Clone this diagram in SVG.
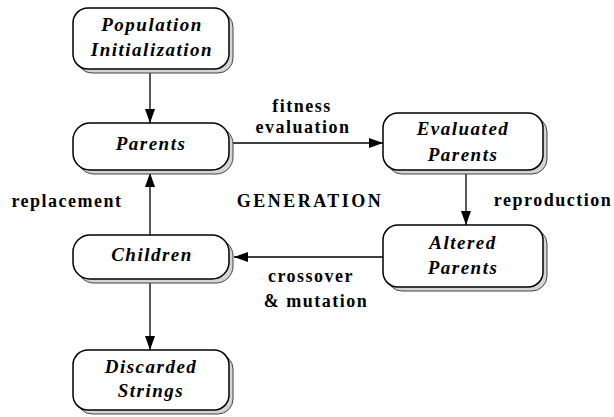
<svg xmlns="http://www.w3.org/2000/svg" width="614" height="417" viewBox="0 0 614 417">
<style>
.shadow{fill:#d4d4d4;stroke:#444;stroke-width:1}
.box{fill:#fff;stroke:#000;stroke-width:1.5}
.nt{font-weight:bold;font-style:italic;font-size:19px;letter-spacing:1.5px;text-anchor:middle;fill:#000}
.lb{font-weight:bold;font-size:18px;letter-spacing:1.5px;text-anchor:middle;fill:#000}
.ed{stroke:#000;stroke-width:1.3;fill:none}
</style>
<defs>
<marker id="ah" viewBox="0 0 14 10" refX="14" refY="5" markerWidth="14" markerHeight="10" markerUnits="userSpaceOnUse" orient="auto">
<path d="M0,0 L14,5 L0,10 Z" fill="#000"/>
</marker>
</defs>

<g font-family="'Liberation Serif', 'DejaVu Serif', serif">
<g id="connectors">
<line class="ed" x1="150" y1="72" x2="150" y2="123" marker-end="url(#ah)"/>
<line class="ed" x1="233" y1="143" x2="383" y2="143" marker-end="url(#ah)"/>
<line class="ed" x1="466" y1="174" x2="466" y2="225" marker-end="url(#ah)"/>
<line class="ed" x1="383" y1="257" x2="234" y2="257" marker-end="url(#ah)"/>
<line class="ed" x1="150" y1="235" x2="150" y2="173" marker-end="url(#ah)"/>
<line class="ed" x1="150" y1="282" x2="150" y2="350" marker-end="url(#ah)"/>
<text class="lb" x="302" y="112">fitness</text>
<text class="lb" x="303" y="133">evaluation</text>
<text class="lb" x="553" y="206">reproduction</text>
<text class="lb" x="67" y="207">replacement</text>
<text class="lb" x="311" y="282">crossover</text>
<text class="lb" x="316" y="307">&amp; mutation</text>
</g>

<text class="lb" x="310" y="207" style="letter-spacing:2.5px">GENERATION</text>

<g id="population">
<rect class="shadow" x="77" y="12" width="156" height="61" rx="15"/>
<rect class="box" x="73" y="8" width="156" height="61" rx="15"/>
<text class="nt" x="152" y="31">Population</text>
<text class="nt" x="152" y="56">Initialization</text>
</g>

<g id="parents">
<rect class="shadow" x="77" y="127" width="156" height="47" rx="17"/>
<rect class="box" x="73" y="123" width="156" height="47" rx="17"/>
<text class="nt" x="151" y="150">Parents</text>
</g>

<g id="evaluated">
<rect class="shadow" x="387" y="117" width="160" height="57" rx="15"/>
<rect class="box" x="383" y="113" width="160" height="57" rx="15"/>
<text class="nt" x="463" y="135">Evaluated</text>
<text class="nt" x="463" y="161">Parents</text>
</g>

<g id="altered">
<rect class="shadow" x="387" y="229" width="160" height="62" rx="15"/>
<rect class="box" x="383" y="225" width="160" height="62" rx="15"/>
<text class="nt" x="463" y="249">Altered</text>
<text class="nt" x="463" y="274">Parents</text>
</g>

<g id="children">
<rect class="shadow" x="77" y="239" width="156" height="44" rx="17"/>
<rect class="box" x="73" y="235" width="156" height="44" rx="17"/>
<text class="nt" x="152" y="261">Children</text>
</g>

<g id="discarded">
<rect class="shadow" x="77" y="354" width="156" height="60" rx="15"/>
<rect class="box" x="73" y="350" width="156" height="60" rx="15"/>
<text class="nt" x="151" y="373">Discarded</text>
<text class="nt" x="151" y="397">Strings</text>
</g>
</g>
</svg>
